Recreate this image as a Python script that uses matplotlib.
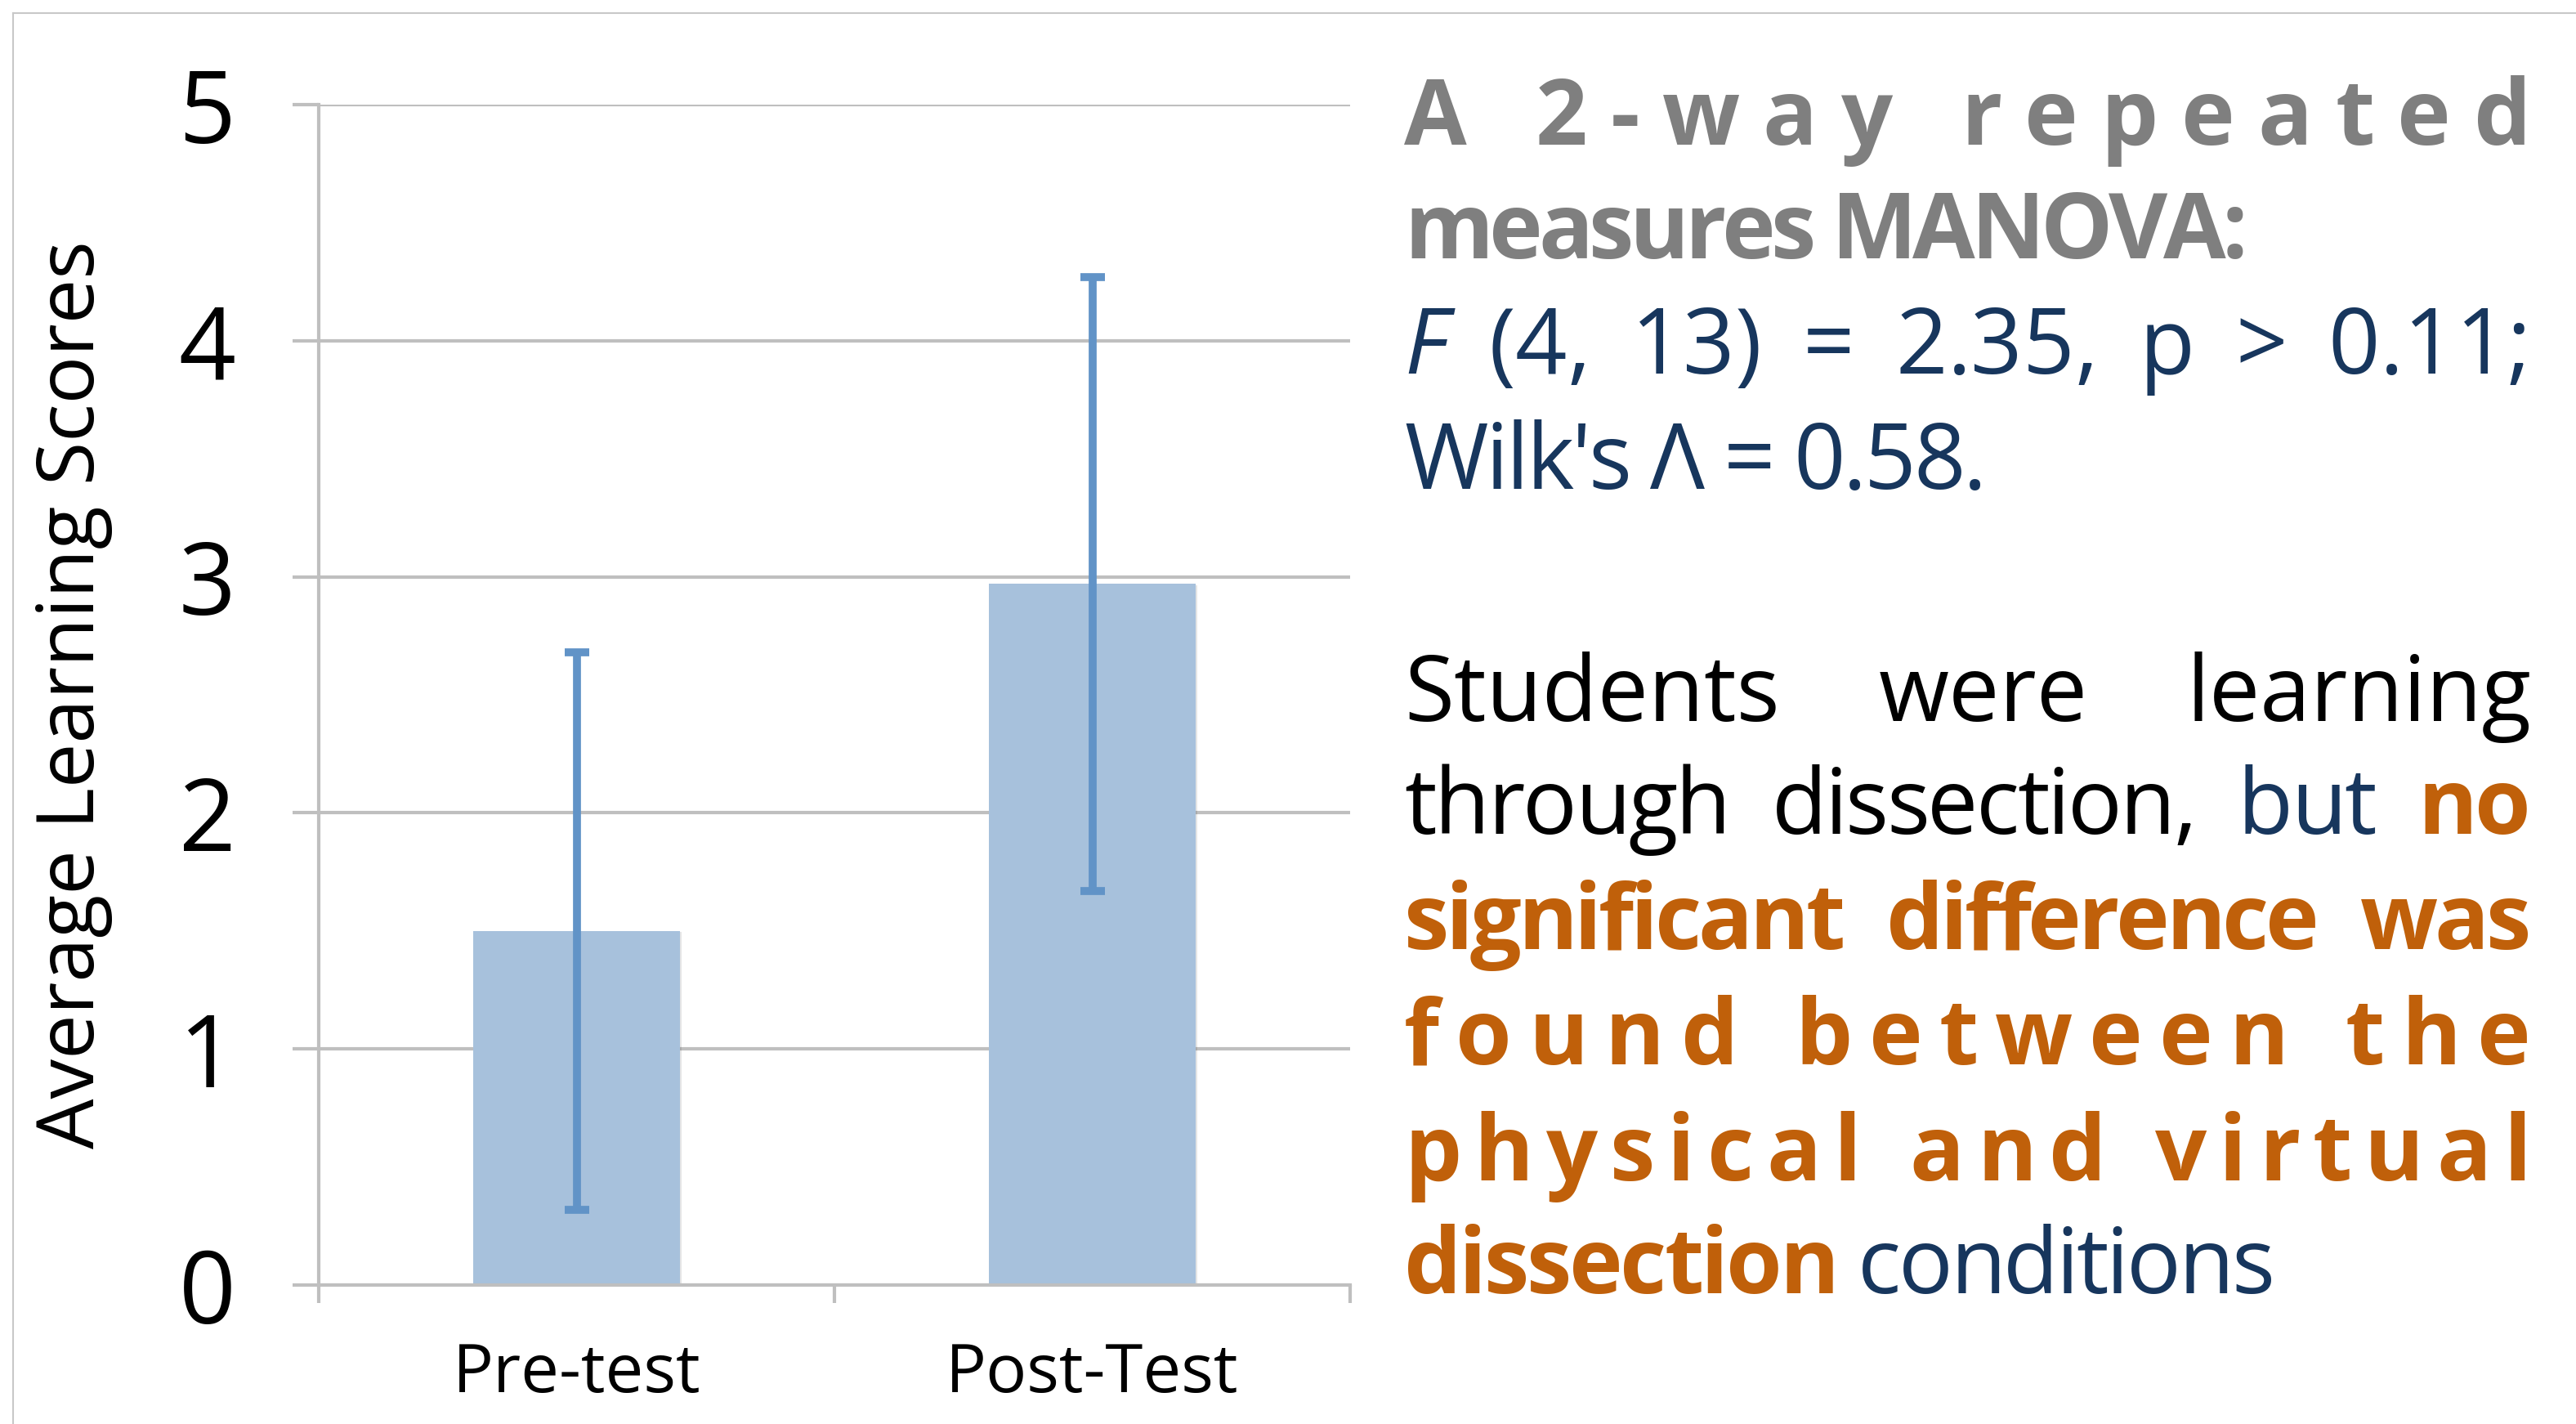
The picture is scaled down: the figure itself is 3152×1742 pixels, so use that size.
import matplotlib
matplotlib.use("Agg")
import matplotlib.pyplot as plt
from matplotlib.lines import Line2D
from matplotlib import patheffects as pe

plt.rcParams["font.family"] = ["Open Sans", "DejaVu Sans"]

# ---- data ----
categories = ["Pre-test", "Post-Test"]
mean_scores = [1.50, 2.97]
score_errors = [1.18, 1.30]
y_ticks = [0, 1, 2, 3, 4, 5]

# ---- side text, one entry per printed line: (text, style) pieces ----
text_lines = [
    [("A 2-way repeated", "head")],
    [("measures MANOVA:", "head")],
    [("F", "navy_it"), (" (4, 13) = 2.35, p > 0.11;", "navy")],
    [("Wilk's Λ = 0.58.", "navy")],
    [("Students were learning", "black")],
    [("through dissection, ", "black"), ("but ", "navy"), ("no", "orange")],
    [("significant difference was", "orange")],
    [("found between the", "orange")],
    [("physical and virtual", "orange")],
    [("dissection ", "orange"), ("conditions", "navy")],
]
# layout of those lines (pixels in the 3152x1742 image)
line_baselines = [177, 316, 457, 598, 882, 1020, 1161, 1302, 1444, 1582]
line_rights = [3097, 2750, 3097, 2431, 3097, 3097, 3097, 3097, 3097, 2783]
line_modes = ["char", "char", "word", "char", "word", "word", "word", "char", "char", "char"]
TEXT_LEFT = 1718
TEXT_SIZE = 80
MIN_GAP = 50  # smallest space between words, px

STYLES = {
    "head": dict(color="#7f7f7f", fontweight="bold"),
    "navy": dict(color="#17365d"),
    "navy_it": dict(color="#17365d", fontstyle="italic"),
    "black": dict(color="#000000"),
    "orange": dict(color="#c0600a", fontweight="bold"),
}

W, H = 3152, 1742
GRID = "#bfbfbf"
BAR = "#a7c1dc"
ERR = "#6193c7"

fig = plt.figure(figsize=(W / 100, H / 100), dpi=100)
fig.patch.set_facecolor("white")

# thin page border (top and left edges of the slide)
fig.add_artist(Line2D([16 / W, 1], [1 - 16 / H, 1 - 16 / H], color="#c8c8c8", lw=1.5))
fig.add_artist(Line2D([16 / W, 16 / W], [0, 1 - 16 / H], color="#c8c8c8", lw=1.5))

ax = fig.add_axes([390 / W, 1 - 1572 / H, 1262 / W, 1444 / H])
x = list(range(len(categories)))
ax.bar(x, mean_scores, width=0.4, color=BAR, zorder=2,
       path_effects=[pe.SimplePatchShadow(offset=(2, -1), shadow_rgbFace="k", alpha=0.10), pe.Normal()])
ax.errorbar(x, mean_scores, yerr=score_errors, fmt="none", ecolor=ERR,
            elinewidth=7, capsize=11, capthick=7, zorder=3)

ax.set_xlim(-0.5, len(categories) - 0.5)
ax.set_ylim(0, 5)
ax.set_yticks(y_ticks)
ax.set_yticklabels([str(v) for v in y_ticks])
ax.yaxis.grid(True, color=GRID, lw=3)
ax.set_axisbelow(True)
ax.tick_params(axis="y", length=23, width=3, color=GRID, labelsize=88, pad=50)

ax.set_xticks([i - 0.5 for i in range(len(categories) + 1)])
ax.set_xticklabels([])
ax.tick_params(axis="x", which="major", length=16, width=3, color=GRID)
ax.set_xticks(x, minor=True)
ax.set_xticklabels(categories, minor=True)
ax.tick_params(axis="x", which="minor", length=0, labelsize=60, pad=49)

for s in ["top", "right"]:
    ax.spines[s].set_visible(False)
for s in ["left", "bottom"]:
    ax.spines[s].set_color(GRID)
    ax.spines[s].set_linewidth(3)

ax.set_ylabel("Average Learning Scores", fontsize=70)
ax.yaxis.set_label_coords(-0.2, 0.5)

# ---- justified text block on the right ----
fig.canvas.draw()
renderer = fig.canvas.get_renderer()


def text_width(s, style):
    t = fig.text(0, 0, s, fontsize=TEXT_SIZE, **STYLES[style])
    w = t.get_window_extent(renderer).width
    t.remove()
    return w


def space_width(style):
    return text_width("a a", style) - text_width("aa", style)


def put(xpx, ypx, s, style):
    fig.text(xpx / W, 1 - ypx / H, s, fontsize=TEXT_SIZE, ha="left", va="baseline", **STYLES[style])


for pieces, base, right, mode in zip(text_lines, line_baselines, line_rights, line_modes):
    span = right - TEXT_LEFT
    if mode == "word":
        words = []
        for txt, style in pieces:
            words += [(w, style) for w in txt.split(" ") if w]
        widths = [text_width(w, st) for w, st in words]
        gap = (span - sum(widths)) / (len(words) - 1)
        xp = TEXT_LEFT
        if gap >= MIN_GAP:
            for (w, st), wd in zip(words, widths):
                put(xp, base, w, st)
                xp += wd + gap
        else:
            # words too wide for the line: tighten letters, keep a fixed word gap
            cw = [[text_width(c, st) for c in w] for w, st in words]
            n_inner = sum(len(w) - 1 for w, _ in words)
            track = (span - MIN_GAP * (len(words) - 1) - sum(map(sum, cw))) / n_inner
            for (w, st), ws in zip(words, cw):
                for c, wd in zip(w, ws):
                    put(xp, base, c, st)
                    xp += wd + track
                xp += MIN_GAP - track
    else:
        chars = []
        for txt, style in pieces:
            chars += [(c, style) for c in txt]
        widths = [space_width(st) if c == " " else text_width(c, st) for c, st in chars]
        track = (span - sum(widths)) / (len(chars) - 1)
        xp = TEXT_LEFT
        for (c, st), wd in zip(chars, widths):
            if c != " ":
                put(xp, base, c, st)
            xp += wd + track

fig.savefig("out.png", dpi=100, facecolor="white")
